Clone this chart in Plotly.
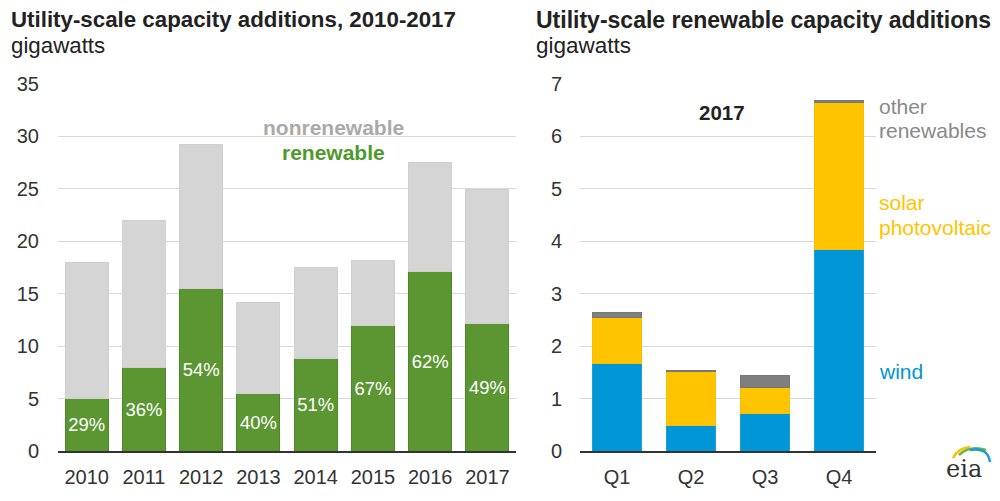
import plotly.graph_objects as go

# ---- data: left chart ----
years = ["2010", "2011", "2012", "2013", "2014", "2015", "2016", "2017"]
renewable = [5.0, 8.0, 15.5, 5.5, 8.85, 12.0, 17.15, 12.15]
total = [18.0, 22.0, 29.2, 14.2, 17.5, 18.15, 27.5, 24.95]
nonrenewable = [t - r for t, r in zip(total, renewable)]
renew_share_labels = ["29%", "36%", "54%", "40%", "51%", "67%", "62%", "49%"]

# ---- data: right chart (2017 by quarter) ----
quarters = ["Q1", "Q2", "Q3", "Q4"]
wind = [1.67, 0.48, 0.71, 3.84]
solar_pv = [0.88, 1.03, 0.51, 2.81]
other_renew = [0.10, 0.035, 0.22, 0.03]

left_ticks = [0, 5, 10, 15, 20, 25, 30, 35]
right_ticks = [0, 1, 2, 3, 4, 5, 6, 7]

FONT = "Liberation Sans, Arial, sans-serif"
GREEN = "#5b9632"
GREY = "#d5d5d5"
BLUE = "#0096d7"
YELLOW = "#ffc400"
DGREY = "#7f7f7f"

# page body has an 8px margin, so the figure is offset by 8px
OFF = 8
W, H = 1000 - OFF, 501 - OFF
def px(x):
    return (x - OFF) / W
def py(y):
    return 1 - (y - OFF) / H

fig = go.Figure()

fig.add_trace(go.Bar(x=years, y=renewable, marker=dict(color=GREEN, line=dict(color="#4a8a22", width=1)),
                     text=renew_share_labels, textposition="inside", insidetextanchor="middle",
                     textfont=dict(color="white", size=21, family=FONT), textangle=0,
                     xaxis="x", yaxis="y", hoverinfo="skip"))
fig.add_trace(go.Bar(x=years, y=nonrenewable, marker=dict(color=GREY, line=dict(color="#d0d0d0", width=1)),
                     xaxis="x", yaxis="y", hoverinfo="skip"))

fig.add_trace(go.Bar(x=quarters, y=wind, width=0.65, marker=dict(color=BLUE, line=dict(color="#1a9fdc", width=1)),
                     xaxis="x2", yaxis="y2", hoverinfo="skip"))
fig.add_trace(go.Bar(x=quarters, y=solar_pv, width=0.65, marker=dict(color=YELLOW, line=dict(color="#f5c000", width=1)),
                     xaxis="x2", yaxis="y2", hoverinfo="skip"))
fig.add_trace(go.Bar(x=quarters, y=other_renew, width=0.65, marker=dict(color=DGREY, line=dict(color="#777777", width=1)),
                     xaxis="x2", yaxis="y2", hoverinfo="skip"))

ydom = [py(451), py(84)]
TICKFONT = dict(size=20, color="#333333", family=FONT)
yaxis_common = dict(showgrid=True, gridcolor="#d9d9d9", gridwidth=1.3, zeroline=False, automargin=False,
                    tickfont=TICKFONT, ticks="", showline=False)
xaxis_common = dict(showgrid=False, showline=True, linecolor="#333333", linewidth=1.5, automargin=False,
                    tickfont=TICKFONT, ticks="", ticklabelstandoff=7)

fig.update_layout(
    width=W, height=H, margin=dict(l=0, r=0, t=0, b=0, autoexpand=False),
    paper_bgcolor="white", plot_bgcolor="white",
    barmode="stack", showlegend=False,
    font=dict(family=FONT),
    xaxis=dict(domain=[px(58), px(516)], anchor="y", **xaxis_common),
    yaxis=dict(domain=ydom, range=[0, 35], tickvals=left_ticks, anchor="x", ticklabelstandoff=18, **yaxis_common),
    xaxis2=dict(domain=[px(580), px(876)], anchor="y2", **xaxis_common),
    yaxis2=dict(domain=ydom, range=[0, 7], tickvals=right_ticks, anchor="x2", ticklabelstandoff=17, **yaxis_common),
    bargap=0.25,
)

ann = []
def add_text(x, y, text, size, color, bold=False, xanchor="left", yanchor="middle", family=FONT):
    ann.append(dict(x=px(x), y=py(y), xref="paper", yref="paper", text=("<b>%s</b>" % text) if bold else text,
                    showarrow=False, xanchor=xanchor, yanchor=yanchor,
                    font=dict(size=size, color=color, family=family), align="left"))

add_text(8.5, 20, "Utility-scale capacity additions, 2010-2017", 22.3, "#222222", bold=True)
add_text(8.5, 45, "gigawatts", 22.3, "#222222")
add_text(534, 20, "Utility-scale renewable capacity additions", 23, "#222222", bold=True)
add_text(534, 45, "gigawatts", 22.5, "#222222")

add_text(333, 127, "nonrenewable", 21, "#aaaaaa", bold=True, xanchor="center")
add_text(333, 152, "renewable", 21, "#4e9a2a", bold=True, xanchor="center")

add_text(722, 113, "2017", 20.5, "#222222", bold=True, xanchor="center")
add_text(877, 106, "other", 21, "#8a8a8a")
add_text(877, 130, "renewables", 21, "#8a8a8a")
add_text(877, 202, "solar", 21, YELLOW)
add_text(877, 227, "photovoltaic", 21, YELLOW)
add_text(877, 371, "wind", 21, BLUE)

# eia logo (decoration)
add_text(964, 469, "eia", 24, "#333333", xanchor="center", family="DejaVu Serif, serif")
fig.update_layout(annotations=ann)

shapes = []
def arc(points, color, width):
    d = "M %f,%f Q %f,%f %f,%f" % (px(points[0][0]), py(points[0][1]), px(points[1][0]), py(points[1][1]),
                                  px(points[2][0]), py(points[2][1]))
    shapes.append(dict(type="path", path=d, xref="paper", yref="paper", line=dict(color=color, width=width)))
arc([(953, 458), (958, 448), (970, 447)], "#f5c400", 2.5)
arc([(959, 455), (970, 445), (986, 450)], "#6db33f", 2.5)
arc([(970, 450), (988, 447), (990, 462)], "#1a9bd7", 2.5)
fig.update_layout(shapes=shapes)

fig.write_html("out.html")
